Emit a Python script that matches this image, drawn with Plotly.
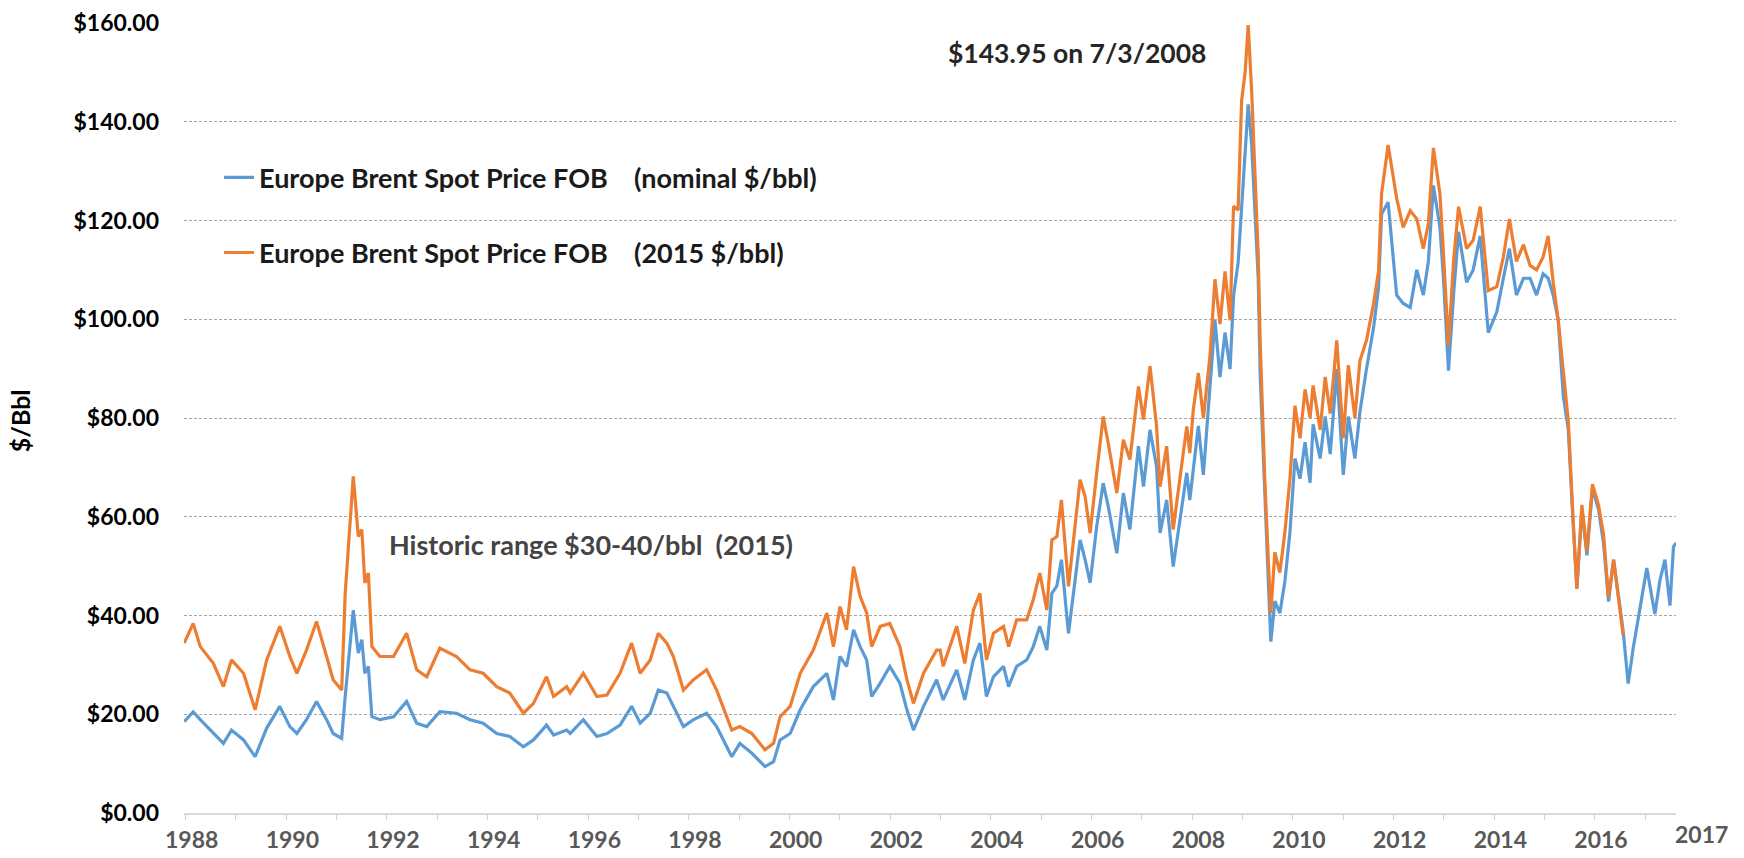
import plotly.graph_objects as go

# ---------------- data ----------------
dates = [
    1987.85, 1988.03, 1988.17, 1988.43, 1988.63, 1988.79, 1989.03, 1989.26, 1989.49, 1989.75,
    1989.95, 1990.09, 1990.28, 1990.48, 1990.68, 1990.81, 1990.98, 1991.05, 1991.21, 1991.31,
    1991.38, 1991.44, 1991.51, 1991.58, 1991.74, 1992.01, 1992.27, 1992.47, 1992.67, 1992.93,
    1993.26, 1993.53, 1993.79, 1994.06, 1994.32, 1994.59, 1994.79, 1995.05, 1995.19, 1995.45,
    1995.52, 1995.78, 1996.05, 1996.25, 1996.51, 1996.74, 1996.91, 1997.11, 1997.27, 1997.44,
    1997.57, 1997.77, 1997.97, 1998.23, 1998.43, 1998.63, 1998.73, 1998.89, 1999.13, 1999.39,
    1999.56, 1999.69, 1999.89, 2000.09, 2000.35, 2000.62, 2000.75, 2000.88, 2001.01, 2001.15,
    2001.28, 2001.41, 2001.51, 2001.68, 2001.87, 2002.07, 2002.21, 2002.34, 2002.54, 2002.80,
    2002.87, 2002.93, 2003.20, 2003.36, 2003.53, 2003.66, 2003.79, 2003.93, 2004.13, 2004.23,
    2004.39, 2004.59, 2004.72, 2004.85, 2004.99, 2005.09, 2005.19, 2005.28, 2005.42, 2005.52,
    2005.65, 2005.75, 2005.85, 2005.98, 2006.11, 2006.21, 2006.38, 2006.51, 2006.64, 2006.81,
    2006.91, 2007.04, 2007.17, 2007.24, 2007.37, 2007.50, 2007.64, 2007.77, 2007.83,
    2007.90, 2008.00, 2008.10, 2008.23, 2008.33, 2008.43, 2008.53, 2008.63, 2008.70, 2008.79,
    2008.86, 2008.93, 2008.99, 2009.06, 2009.13, 2009.19, 2009.23, 2009.26, 2009.32, 2009.39,
    2009.44, 2009.52, 2009.62, 2009.72, 2009.82, 2009.92, 2010.02, 2010.12, 2010.22, 2010.28,
    2010.42, 2010.52, 2010.62, 2010.75, 2010.88, 2010.98, 2011.11, 2011.21, 2011.34, 2011.48,
    2011.58, 2011.64, 2011.77,
    2011.94, 2012.07, 2012.21, 2012.34, 2012.47, 2012.57, 2012.67, 2012.80, 2012.87, 2012.97,
    2013.07, 2013.17, 2013.33, 2013.46, 2013.60, 2013.76, 2013.93, 2014.06, 2014.18, 2014.32,
    2014.46, 2014.59, 2014.72, 2014.85, 2014.95, 2015.05, 2015.15, 2015.25, 2015.35, 2015.44,
    2015.52, 2015.62, 2015.72, 2015.83, 2015.95, 2016.05, 2016.15, 2016.25, 2016.34, 2016.44,
    2016.54, 2016.64, 2016.74, 2016.91, 2017.07, 2017.17, 2017.27, 2017.37, 2017.44, 2017.49,
]

brent_nominal = [
    18.5, 20.5, 18.9, 16.1, 14.1, 16.8, 14.8, 11.4, 17.2, 21.6,
    17.5, 16.1, 18.9, 22.6, 18.9, 16.1, 15.1, 23.6, 41.1, 32.4,
    35.1, 28.3, 29.7, 19.5, 18.9, 19.5, 22.6, 18.2, 17.5, 20.5,
    20.2, 18.9, 18.2, 16.1, 15.5, 13.4, 14.8, 17.8, 15.8, 16.8,
    16.1, 18.9, 15.5, 16.1, 17.8, 21.6, 18.2, 20.2, 24.9, 24.3,
    21.6, 17.5, 18.9, 20.2, 17.5, 13.4, 11.4, 14.1, 12.1, 9.4,
    10.4, 14.8, 16.1, 20.9, 25.6, 28.3, 22.9, 31.7, 29.7, 37.1,
    33.7, 31.0, 23.6, 26.3, 29.7, 26.3, 20.9, 16.8, 21.6, 27.0,
    24.9, 22.9, 29.0, 22.9, 31.0, 34.4, 23.6, 27.6, 29.7, 25.6,
    29.7, 31.0, 33.7, 37.8, 33.0, 44.5, 46.0, 51.3, 36.4, 44.5,
    55.3, 51.3, 46.6, 58.0, 66.8, 62.1, 52.6, 64.8, 57.4, 74.3,
    66.1, 77.6, 70.2, 56.7, 63.4, 49.9, 60.1, 68.9, 63.4,
    69.3, 78.4, 68.5, 85.8, 99.8, 88.3, 97.3, 89.9, 104.8, 111.4,
    122.1, 132.0, 143.5, 135.3, 121.3, 108.1, 88.3, 80.0, 63.5, 47.0,
    34.7, 42.9, 40.5, 47.0, 56.9, 71.8, 67.7, 75.1, 66.9, 78.7,
    71.8, 80.3, 72.7, 89.9, 68.5, 80.3, 71.8, 81.2, 89.9, 98.2,
    106.4, 121.3, 123.7,
    104.9, 103.2, 102.4, 110.0, 104.9, 111.7, 127.1, 118.6, 108.3, 89.6,
    104.9, 117.7, 107.5, 110.0, 116.9, 97.3, 101.5, 108.3, 114.3, 104.9,
    108.3, 108.3, 104.9, 109.2, 108.3, 104.9, 99.8, 84.5, 77.7, 59.8,
    45.4, 61.5, 52.2, 65.7, 61.5, 54.7, 42.8, 51.3, 44.5, 36.9,
    26.2, 33.4, 39.4, 49.6, 40.3, 47.1, 51.3, 42.0, 53.9, 54.7,
]

brent_2015 = [
    34.4, 38.4, 33.7, 30.3, 25.6, 31.0, 28.3, 20.9, 31.0, 37.8,
    31.7, 28.3, 33.0, 38.8, 31.7, 27.0, 24.9, 44.5, 68.2, 56.0,
    57.4, 46.6, 48.6, 33.7, 31.7, 31.7, 36.4, 29.0, 27.6, 33.4,
    31.7, 29.0, 28.3, 25.6, 24.3, 20.2, 22.2, 27.6, 23.6, 25.6,
    24.3, 28.3, 23.6, 23.9, 28.3, 34.4, 28.3, 31.0, 36.4, 34.4,
    31.7, 24.9, 27.0, 29.0, 24.9, 19.5, 16.8, 17.5, 16.1, 12.8,
    14.1, 19.5, 21.6, 28.3, 33.0, 40.5, 33.7, 41.8, 37.1, 49.9,
    43.9, 40.5, 33.7, 37.8, 38.4, 33.7, 27.0, 22.2, 28.3, 33.0,
    33.0, 29.7, 37.8, 30.3, 41.1, 44.5, 31.0, 36.4, 37.8, 33.7,
    39.1, 39.1, 43.2, 48.6, 41.1, 55.3, 56.0, 63.4, 45.9, 55.3,
    67.5, 64.1, 56.7, 68.9, 80.3, 74.9, 64.8, 75.6, 71.6, 86.4,
    79.7, 90.5, 78.3, 66.1, 74.3, 57.4, 68.9, 78.3, 72.9,
    81.7, 89.1, 80.0, 92.4, 108.1, 99.0, 109.7, 99.8, 122.9, 122.1,
    144.3, 150.1, 159.6, 146.0, 127.8, 113.0, 94.9, 84.2, 67.7, 51.2,
    40.5, 52.8, 48.7, 56.9, 67.7, 82.5, 75.9, 85.8, 80.0, 86.6,
    77.6, 88.3, 80.9, 95.7, 75.9, 90.7, 80.0, 91.6, 95.7, 103.1,
    109.7, 125.4, 135.3,
    124.5, 118.6, 122.0, 120.3, 114.3, 119.4, 134.7, 125.4, 113.4, 94.7,
    111.7, 122.8, 114.3, 116.0, 122.8, 105.8, 106.6, 112.6, 120.3, 111.7,
    115.1, 110.9, 110.0, 112.6, 116.9, 107.5, 99.8, 88.8, 79.4, 60.7,
    45.4, 62.4, 53.0, 66.6, 62.4, 56.4, 43.7, 51.3, 44.5, 36.0,
]

y_ticks = [0, 20, 40, 60, 80, 100, 120, 140, 160]
y_tick_labels = ["$0.00", "$20.00", "$40.00", "$60.00", "$80.00",
                 "$100.00", "$120.00", "$140.00", "$160.00"]
x_ticks = list(range(1988, 2017, 2))
x_tick_labels = [str(y) for y in x_ticks]
year_marks = list(range(1988, 2018))

series_names = [
    "Europe Brent Spot Price FOB\u00a0\u00a0\u00a0\u00a0(nominal $/bbl)",
    "Europe Brent Spot Price FOB\u00a0\u00a0\u00a0\u00a0(2015 $/bbl)",
]

BLUE = "#5B9BD5"
ORANGE = "#ED7D31"
FONT = "Lato"

fig = go.Figure()

fig.add_trace(go.Scatter(
    x=dates, y=brent_nominal, mode="lines", name=series_names[0],
    line=dict(color=BLUE, width=3.2), legendgroup="a",
))
fig.add_trace(go.Scatter(
    x=dates[:len(brent_2015)], y=brent_2015, mode="lines", name=series_names[1],
    line=dict(color=ORANGE, width=3.2), legendgroup="b",
))

# the ':' year marks under the axis line
fig.add_trace(go.Scatter(
    x=year_marks + year_marks,
    y=[-0.45] * len(year_marks) + [-1.7] * len(year_marks),
    mode="markers", marker=dict(color="#000000", size=3, symbol="square"),
    showlegend=False, hoverinfo="skip", cliponaxis=False,
))

fig.update_layout(
    width=1744, height=858,
    margin=dict(l=184, r=68, t=23, b=45, autoexpand=False),
    paper_bgcolor="white", plot_bgcolor="white",
    font=dict(family=FONT, size=22, color="#000000", weight="bold"),
    showlegend=True,
    legend=dict(
        x=0.0235, y=0.835, xanchor="left", yanchor="top",
        bgcolor="rgba(0,0,0,0)", tracegroupgap=37,
        font=dict(family=FONT, size=27, color="#1a1a1a", weight="bold"),
    ),
    xaxis=dict(
        range=[1987.847, 2017.49], automargin=False,
        tickmode="array", tickvals=x_ticks, ticktext=x_tick_labels,
        ticks="", showgrid=False, zeroline=False,
        showline=True, linecolor="#d9d9d9", linewidth=1.5,
        tickfont=dict(family=FONT, size=23, color="#595959", weight="bold"),
        ticklabelstandoff=6,
        minor=dict(tickmode="linear", tick0=1987.88, dtick=1, ticks="outside",
                   ticklen=5, tickcolor="#d0d0d0", tickwidth=1, showgrid=False),
    ),
    yaxis=dict(
        range=[0, 160], automargin=False,
        tickmode="array", tickvals=y_ticks, ticktext=y_tick_labels,
        ticks="", showgrid=True, gridcolor="#a6a6a6", gridwidth=1,
        griddash="3px,2px",
        zeroline=True, zerolinecolor="#d9d9d9", zerolinewidth=1.5,
        showline=False,
        tickfont=dict(family=FONT, size=23, color="#000000", weight="bold"),
        ticklabelstandoff=24,
    ),
    annotations=[
        dict(text="$/Bbl", xref="paper", yref="paper", x=-0.1100, y=0.497,
             textangle=-90, showarrow=False, xanchor="center", yanchor="middle",
             font=dict(family=FONT, size=25, color="#000000", weight="bold")),
        dict(text="$143.95 on 7/3/2008", xref="paper", yref="paper",
             x=0.5983, y=0.9621, showarrow=False, xanchor="center", yanchor="middle",
             font=dict(family=FONT, size=26.5, color="#262626", weight="bold")),
        dict(text="Historic range $30-40/bbl\u00a0\u00a0(2015)", xref="paper", yref="paper",
             x=0.1361, y=0.3394, showarrow=False, xanchor="left", yanchor="middle",
             font=dict(family=FONT, size=27, color="#444444", weight="bold")),
        dict(text="2017", xref="paper", yref="paper", x=1.017, y=-0.0266,
             showarrow=False, xanchor="center", yanchor="middle",
             font=dict(family=FONT, size=23, color="#595959", weight="bold")),
    ],
)

fig.write_html("out.html", config={"displayModeBar": False},
               post_script="document.body.style.margin='0px';")
